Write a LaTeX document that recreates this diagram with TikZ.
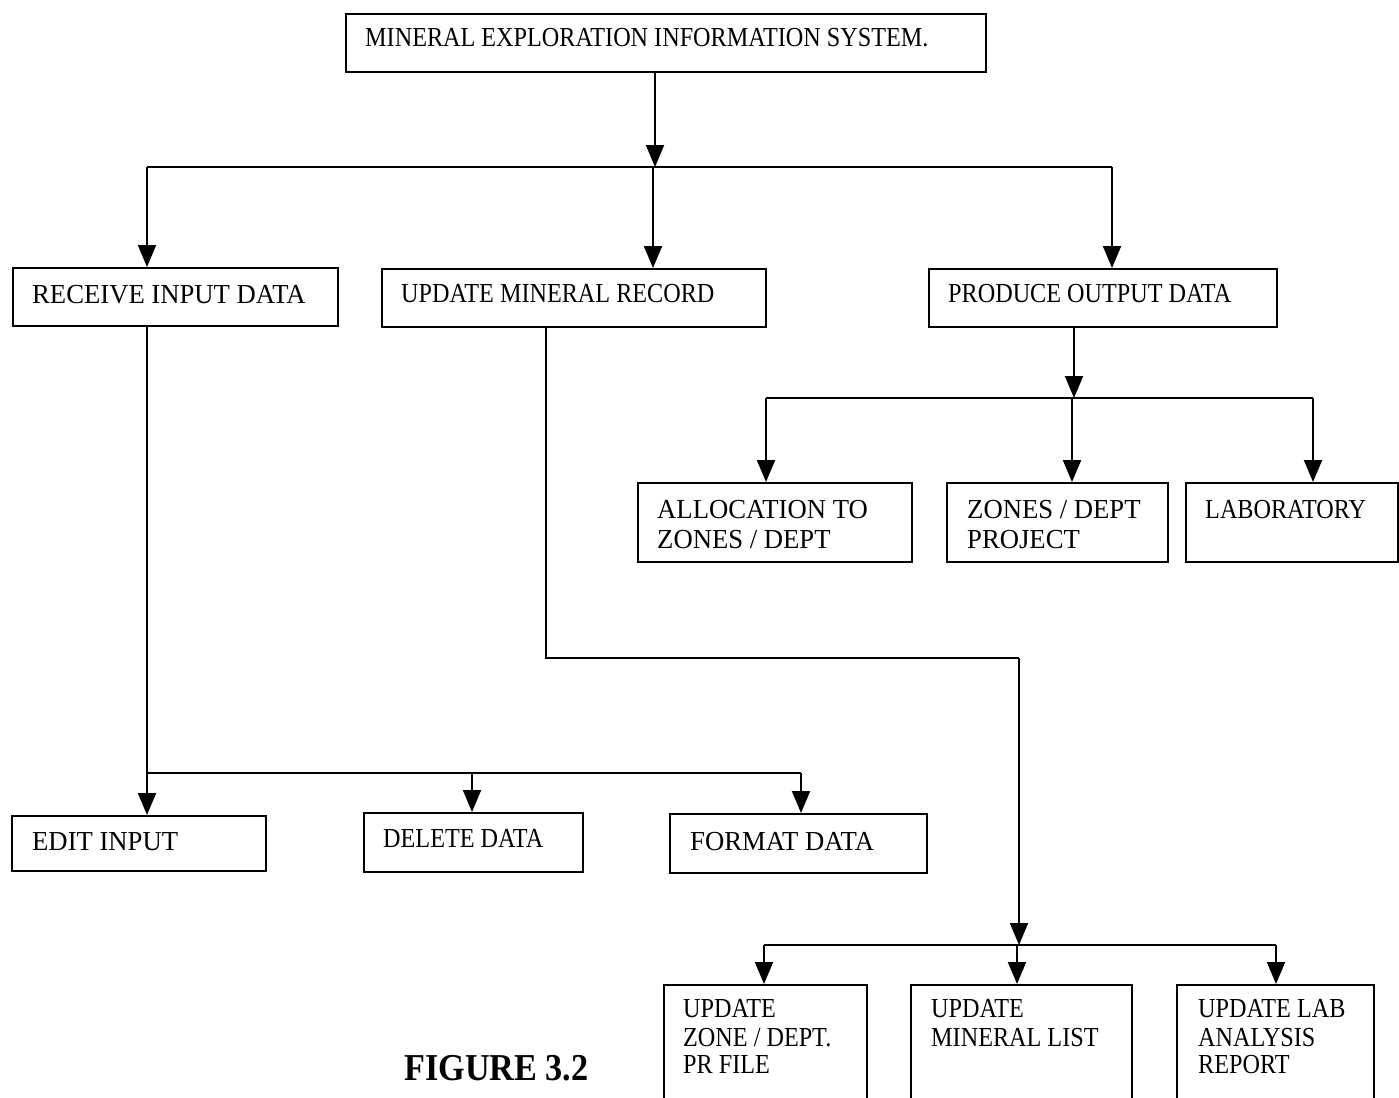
\documentclass[tikz,border=0pt]{standalone}
\usepackage{fontspec}
\setmainfont{Liberation Serif}
\newfontfamily\fA[FakeStretch=0.88]{Liberation Serif}
\newfontfamily\fB[FakeStretch=0.97]{Liberation Serif}
\newfontfamily\fC[FakeStretch=0.90]{Liberation Serif}
\usetikzlibrary{arrows.meta}
\tikzset{
  box/.style={draw, line width=2pt, anchor=north west, inner sep=0pt, rectangle},
  ln/.style={line width=2pt},
  arr/.style={line width=2pt, -{Triangle[width=18pt,length=22pt]}},
  ta/.style={anchor=base west, inner sep=0pt, font=\fA\fontsize{27.5}{30}\selectfont},
  tb/.style={anchor=base west, inner sep=0pt, font=\fB\fontsize{27.5}{30}\selectfont},
}
\begin{document}
\begin{tikzpicture}[x=1pt, y=-1pt]
\useasboundingbox[fill=white] (0,0) rectangle (1399,1097);
% boxes
\node[box, minimum width=640, minimum height=58] (top) at (345,13) {};
\node[box, minimum width=325, minimum height=58] (recv) at (12,267) {};
\node[box, minimum width=384, minimum height=58] (upd) at (381,268) {};
\node[box, minimum width=348, minimum height=58] (prod) at (928,268) {};
\node[box, minimum width=274, minimum height=79] (alloc) at (637,482) {};
\node[box, minimum width=221, minimum height=79] (zones) at (946,482) {};
\node[box, minimum width=212, minimum height=79] (lab) at (1185,482) {};
\node[box, minimum width=254, minimum height=55] (edit) at (11,815) {};
\node[box, minimum width=219, minimum height=59] (del) at (363,812) {};
\node[box, minimum width=257, minimum height=59] (fmt) at (669,813) {};
\node[box, minimum width=203, minimum height=140] (uz) at (663,984) {};
\node[box, minimum width=221, minimum height=140] (um) at (910,984) {};
\node[box, minimum width=197, minimum height=140] (ul) at (1176,984) {};
% texts
\node[ta] (ttop) at (365,47) {MINERAL EXPLORATION INFORMATION SYSTEM.};
\node[tb] (trecv) at (32,303) {RECEIVE INPUT DATA};
\node[ta] (tupd) at (401,302) {UPDATE MINERAL RECORD};
\node[ta] (tprod) at (948,302) {PRODUCE OUTPUT DATA};
\node[tb] (talloc1) at (657,518) {ALLOCATION TO};
\node[tb] (talloc2) at (657,548) {ZONES / DEPT};
\node[tb] (tzones1) at (967,518) {ZONES / DEPT};
\node[tb] (tzones2) at (967,548) {PROJECT};
\node[ta] (tlab) at (1205,518) {LABORATORY};
\node[tb] (tedit) at (32,850) {EDIT INPUT};
\node[ta] (tdel) at (383,847) {DELETE DATA};
\node[tb] (tfmt) at (690,850) {FORMAT DATA};
\node[ta] (tuz1) at (683,1017) {UPDATE};
\node[ta] (tuz2) at (683,1046) {ZONE / DEPT.};
\node[ta] (tuz3) at (683,1073) {PR FILE};
\node[ta] (tum1) at (931,1017) {UPDATE};
\node[ta] (tum2) at (931,1046) {MINERAL LIST};
\node[ta] (tul1) at (1198,1017) {UPDATE LAB};
\node[ta] (tul2) at (1198,1046) {ANALYSIS};
\node[ta] (tul3) at (1198,1073) {REPORT};
\node[anchor=base west, inner sep=0pt, font=\fC\bfseries\fontsize{38}{40}\selectfont] (fig) at (404,1080) {FIGURE 3.2};
% connectors: level 1
\coordinate (j0) at (655,167);
\coordinate (h1a) at (147,167);
\coordinate (h1m) at (653,167);
\coordinate (h1b) at (1112,167);
\draw[arr] (j0 |- top.south) -- (j0);
\draw[ln] (h1a) -- (h1b);
\draw[arr] (h1a) -- (h1a |- recv.north);
\draw[arr] (h1m) -- (h1m |- upd.north);
\draw[arr] (h1b) -- (h1b |- prod.north);
% produce output branch
\coordinate (j2) at (1074,398);
\coordinate (h2a) at (766,398);
\coordinate (h2m) at (1072,398);
\coordinate (h2b) at (1313,398);
\draw[arr] (j2 |- prod.south) -- (j2);
\draw[ln] (h2a) -- (h2b);
\draw[arr] (h2a) -- (h2a |- alloc.north);
\draw[arr] (h2m) -- (h2m |- zones.north);
\draw[arr] (h2b) -- (h2b |- lab.north);
% receive input branch
\coordinate (h3a) at (147,773);
\coordinate (h3m) at (472,773);
\coordinate (h3b) at (801,773);
\draw[arr] (h3a |- recv.south) -- (h3a |- edit.north);
\draw[ln] (h3a) -- (h3b);
\draw[arr] (h3m) -- (h3m |- del.north);
\draw[arr] (h3b) -- (h3b |- fmt.north);
% update mineral record branch
\coordinate (c1) at (546,658);
\coordinate (c2) at (1019,658);
\coordinate (j4) at (1019,945);
\coordinate (h4a) at (764,945);
\coordinate (h4m) at (1017,945);
\coordinate (h4b) at (1276,945);
\draw[ln] (c1 |- upd.south) -- (c1) -- (c2);
\draw[arr] (c2) -- (j4);
\draw[ln] (h4a) -- (h4b);
\draw[arr] (h4a) -- (h4a |- uz.north);
\draw[arr] (h4m) -- (h4m |- um.north);
\draw[arr] (h4b) -- (h4b |- ul.north);
\end{tikzpicture}
\end{document}
